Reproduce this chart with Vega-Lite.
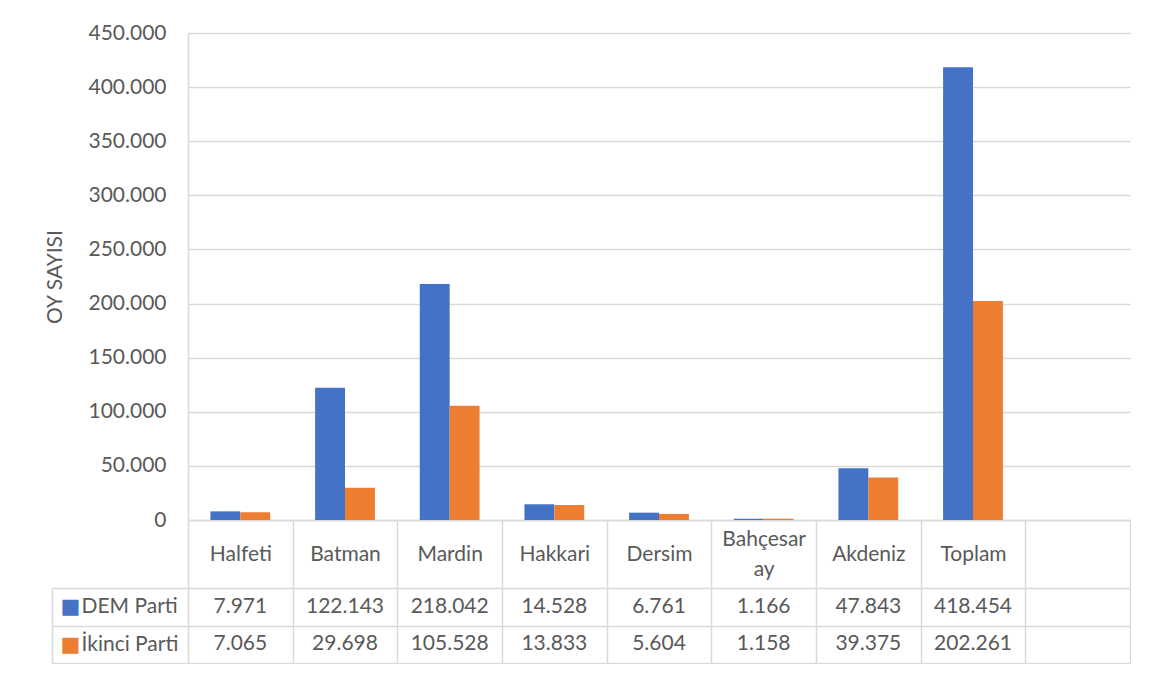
{
  "$schema": "https://vega.github.io/schema/vega-lite/v6.json",
  "background": "white",
  "padding": {"left": 44, "top": 22, "right": 0, "bottom": 0},
  "spacing": -12,
  "config": {
    "locale": {"number": {"decimal": ",", "thousands": ".", "grouping": [3], "currency": ["", ""]}},
    "font": "Lato",
    "view": {"stroke": null}
  },
  "data": {"values": [
    {"city": "Halfeti", "party": "DEM Parti", "votes": 7971},
    {"city": "Halfeti", "party": "İkinci Parti", "votes": 7065},
    {"city": "Batman", "party": "DEM Parti", "votes": 122143},
    {"city": "Batman", "party": "İkinci Parti", "votes": 29698},
    {"city": "Mardin", "party": "DEM Parti", "votes": 218042},
    {"city": "Mardin", "party": "İkinci Parti", "votes": 105528},
    {"city": "Hakkari", "party": "DEM Parti", "votes": 14528},
    {"city": "Hakkari", "party": "İkinci Parti", "votes": 13833},
    {"city": "Dersim", "party": "DEM Parti", "votes": 6761},
    {"city": "Dersim", "party": "İkinci Parti", "votes": 5604},
    {"city": "Bahçesaray", "party": "DEM Parti", "votes": 1166},
    {"city": "Bahçesaray", "party": "İkinci Parti", "votes": 1158},
    {"city": "Akdeniz", "party": "DEM Parti", "votes": 47843},
    {"city": "Akdeniz", "party": "İkinci Parti", "votes": 39375},
    {"city": "Toplam", "party": "DEM Parti", "votes": 418454},
    {"city": "Toplam", "party": "İkinci Parti", "votes": 202261}
  ]},
  "vconcat": [
    {
      "width": 942,
      "height": 487,
      "mark": {"type": "bar"},
      "encoding": {
        "x": {
          "field": "city", "type": "nominal",
          "scale": {"domain": ["Halfeti", "Batman", "Mardin", "Hakkari", "Dersim", "Bahçesaray", "Akdeniz", "Toplam", " "], "paddingInner": 0, "paddingOuter": 0},
          "axis": {
            "title": null, "grid": false, "tickBand": "extent", "tickSize": 67, "tickColor": "#D9D9D9", "tickWidth": 1.5,
            "domainColor": "#D9D9D9", "domainWidth": 1.5, "labelAngle": 0,
            "labelPadding": {"condition": {"test": "datum.value === 'Bahçesaray'", "value": -48}, "value": -33},
            "labelBaseline": "middle",
            "labelFontSize": 21, "labelColor": "#595959", "labelLineHeight": 30, "labelOverlap": false,
            "labelExpr": "datum.value == 'Bahçesaray' ? ['Bahçesar', 'ay'] : datum.value"
          }
        },
        "xOffset": {
          "field": "party", "type": "nominal",
          "scale": {"domain": ["DEM Parti", "İkinci Parti"], "paddingInner": 0, "paddingOuter": 0.75}
        },
        "y": {
          "field": "votes", "type": "quantitative",
          "scale": {"domain": [0, 450000], "nice": false},
          "axis": {
            "values": [0, 50000, 100000, 150000, 200000, 250000, 300000, 350000, 400000, 450000],
            "format": ",d", "title": "OY SAYISI", "titleFontSize": 21, "titleFontWeight": "normal", "titleColor": "#595959",
            "titlePadding": 22, "grid": true, "gridColor": "#D9D9D9", "gridWidth": 1.5, "ticks": false,
            "domain": true, "domainColor": "#D9D9D9", "domainWidth": 1.5, "labelPadding": 22,
            "labelFontSize": 21, "labelColor": "#595959"
          }
        },
        "color": {
          "field": "party", "type": "nominal",
          "scale": {"domain": ["DEM Parti", "İkinci Parti"], "range": ["#4472C4", "#ED7D31"]},
          "legend": null
        }
      }
    },
    {
      "width": 942,
      "height": 75,
      "layer": [
        {
          "mark": {"type": "text", "fontSize": 21, "color": "#595959"},
          "encoding": {
            "x": {
              "field": "city", "type": "nominal",
              "scale": {"domain": ["Halfeti", "Batman", "Mardin", "Hakkari", "Dersim", "Bahçesaray", "Akdeniz", "Toplam", " "], "paddingInner": 0, "paddingOuter": 0},
              "axis": {"title": null, "orient": "bottom", "labels": false, "ticks": false, "domain": false, "grid": true, "tickBand": "extent", "gridColor": "#D9D9D9", "gridWidth": 1.5}
            },
            "y": {
              "field": "party", "type": "nominal",
              "scale": {"domain": ["DEM Parti", "İkinci Parti"], "paddingInner": 0, "paddingOuter": 0},
              "axis": {
                "title": null, "orient": "left", "grid": true, "tickBand": "extent", "gridColor": "#D9D9D9", "gridWidth": 1.5,
                "ticks": true, "tickSize": 136, "tickColor": "#D9D9D9", "tickWidth": 1.5, "domain": false,
                "labelAlign": "left", "labelPadding": -29, "labelFontSize": 21, "labelColor": "#595959", "labelBaseline": "middle"
              }
            },
            "text": {"field": "votes", "type": "quantitative", "format": ",d"}
          }
        },
        {
          "mark": {"type": "text", "opacity": 0},
          "encoding": {
            "x": {
              "field": "city", "type": "nominal",
              "scale": {"domain": ["Halfeti", "Batman", "Mardin", "Hakkari", "Dersim", "Bahçesaray", "Akdeniz", "Toplam", " "], "paddingInner": 0, "paddingOuter": 0}
            },
            "y": {
              "field": "party", "type": "nominal",
              "scale": {"domain": ["DEM Parti", "İkinci Parti"], "paddingInner": 0, "paddingOuter": 0},
              "axis": {
                "title": null, "orient": "left", "offset": 136, "domain": true, "domainColor": "#D9D9D9", "domainWidth": 1.5,
                "ticks": false, "tickSize": 0, "grid": false, "labelExpr": "'■'", "labelFont": "DejaVu Sans",
                "labelFontSize": 21, "labelAlign": "left", "labelPadding": -8, "labelBaseline": "middle",
                "labelColor": {"condition": {"test": "datum.value === 'DEM Parti'", "value": "#4472C4"}, "value": "#ED7D31"}
              }
            },
            "text": {"field": "votes", "type": "quantitative"}
          }
        }
      ],
      "resolve": {"scale": {"y": "independent"}, "axis": {"y": "independent"}}
    }
  ]
}
